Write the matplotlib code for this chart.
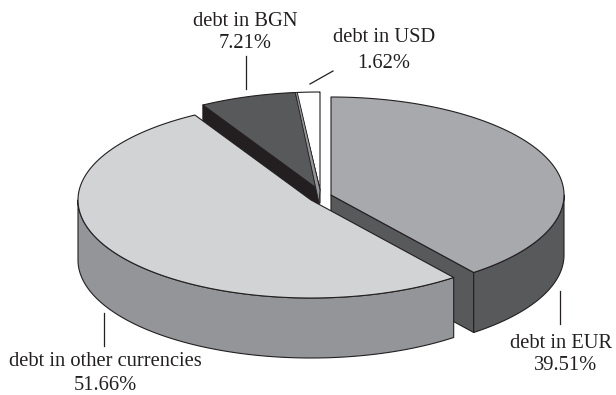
import numpy as np
import matplotlib
matplotlib.use("Agg")
import matplotlib.pyplot as plt
from matplotlib.patches import Polygon

categories = ["debt in EUR", "debt in other currencies", "debt in BGN", "debt in USD"]
values = [39.51, 51.66, 7.21, 1.62]

top_colors = ["#a7a9ac", "#d1d3d4", "#58595b", "#ffffff"]
side_colors = ["#58595b", "#939598", "#58595b", "#ffffff"]
cut_colors = ["#58595b", "#939598", "#231f20", "#939598"]
apexes = [(331, 195), (311, 200), (319, 190), (320, 190)]
label_pos = [[(561.5, 344), (566, 366)], [(105, 362), (105, 385)],
             [(245, 21), (245, 44)], [(384, 37), (384, 63)]]
leaders = [[(560, 291), (560, 324)], [(104, 313), (104, 346)],
           [(246, 56), (246, 89)], [(310, 84), (333, 71)]]
# small projection correction of the slice boundaries, in degrees
boundary_nudge = [0, 0, 1.9, 0, 0]

RX, RY, H = 233, 98, 60
EDGE = "#231f20"
LW = 0.8
FS = 14.8

plt.rcParams["font.family"] = ["Liberation Serif", "DejaVu Serif"]
fig = plt.figure(figsize=(6.16, 3.95), dpi=100)
ax = fig.add_axes([0, 0, 1, 1])
ax.set_xlim(0, 616)
ax.set_ylim(395, 0)
ax.axis("off")

edges = np.cumsum([0] + values) / 100 * 2 * np.pi + np.radians(boundary_nudge)


def rim(i, t0=None, t1=None):
    a, b = edges[i] if t0 is None else t0, edges[i + 1] if t1 is None else t1
    t = np.linspace(a, b, 200)
    cx, cy = apexes[i]
    return np.column_stack([cx + RX * np.sin(t), cy - RY * np.cos(t)])


def poly(pts, fc, z, lw=LW):
    ax.add_patch(Polygon(pts, closed=True, fc=fc, ec=EDGE, lw=lw, joinstyle="round", zorder=z))


def top(i, z):
    poly(np.vstack([[apexes[i]], rim(i)]), top_colors[i], z)


def cut(i, idx, z):
    a = np.array(apexes[i], float)
    p = rim(i)[idx]
    d = np.array([0, H])
    poly([a, p, p + d, a + d], cut_colors[i], z)


def side(i, z):
    t0 = max(edges[i], np.pi / 2)
    t1 = min(edges[i + 1], 3 * np.pi / 2)
    r = rim(i, t0, t1)
    poly(np.vstack([r, r[::-1] + [0, H]]), side_colors[i], z)


# back to front
cut(2, 0, 1)
top(2, 2)
top(3, 2)
# narrow grey face between the BGN and USD slices
a3 = np.array(apexes[3], float)
p3 = rim(3)[0]
poly([p3, a3 + [-1, 13], a3 + [0, 13], a3], "#ffffff", 3)
poly([p3 + [-1, 0], a3 + [-1, 13], a3 + [0, 0], p3 + [1, 0]], cut_colors[3], 3, 0.6)
cut(0, -1, 4)
side(0, 5)
top(0, 6)
side(1, 7)
top(1, 8)

for i, name in enumerate(categories):
    (x1, y1), (x2, y2) = label_pos[i]
    ax.text(x1, y1, name, ha="center", va="center", fontsize=FS, color="#231f20", zorder=10)
    ax.text(x2, y2, f"{values[i]:.2f}%", ha="center", va="center", fontsize=FS, color="#231f20", zorder=10)
    (lx1, ly1), (lx2, ly2) = leaders[i]
    ax.plot([lx1, lx2], [ly1, ly2], color=EDGE, lw=0.9, zorder=9)

fig.savefig("out.png", dpi=100)
